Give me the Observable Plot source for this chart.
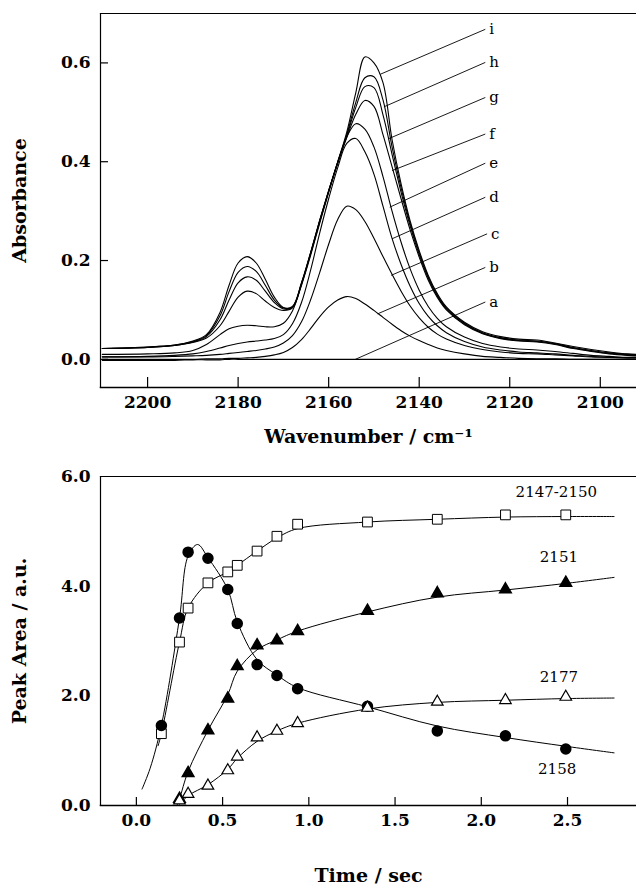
<!DOCTYPE html>
<html><head><meta charset="utf-8">
<script src="https://cdn.jsdelivr.net/npm/d3@7"></script>
<script src="https://cdn.jsdelivr.net/npm/@observablehq/plot@0.6"></script>
<style>
body{margin:0;background:#fff;}
#chart{width:636px;}
svg{display:block;}
</style></head><body><div id="chart"></div>
<script>
// ---------- Top panel: IR spectra ----------
const wavenumbers = [2210,2200,2194,2190,2187,2184,2182,2180,2178,2176,2174,2172,2170,2168,2166,2164,2162,2160,2158,2156,2154,2152,2150,2148,2146,2144,2142,2140,2138,2136,2134,2130,2126,2122,2118,2114,2110,2106,2102,2098,2094,2092];
const absA = [-0.002,-0.002,-0.002,-0.001,-0.001,-0.001,0,0,0,0,0,0,0,0,0,0,0,0,0,0,0,0,0,0,0,0,0,0,0,0,0,0,0,0,0,0,0,0,0,0,0,0];
const absB = [0,0,0,0,0.001,0.001,0.002,0.002,0.003,0.004,0.006,0.009,0.014,0.024,0.04,0.062,0.086,0.106,0.12,0.127,0.123,0.112,0.099,0.085,0.071,0.058,0.047,0.038,0.03,0.023,0.018,0.011,0.006,0.004,0.002,0.001,0.001,0,0,0,0,0];
const absC = [0.005,0.005,0.006,0.007,0.008,0.01,0.012,0.014,0.016,0.018,0.021,0.025,0.033,0.048,0.076,0.12,0.175,0.233,0.283,0.31,0.303,0.279,0.245,0.208,0.172,0.138,0.108,0.084,0.065,0.051,0.041,0.028,0.02,0.015,0.012,0.011,0.009,0.007,0.005,0.004,0.003,0.003];
const absD = [0.005,0.006,0.008,0.011,0.016,0.023,0.028,0.032,0.035,0.037,0.039,0.042,0.05,0.072,0.115,0.18,0.255,0.325,0.388,0.437,0.447,0.42,0.375,0.31,0.245,0.192,0.148,0.113,0.087,0.068,0.054,0.036,0.025,0.019,0.015,0.013,0.011,0.008,0.006,0.004,0.003,0.003];
const absE = [0.01,0.011,0.013,0.018,0.03,0.05,0.062,0.067,0.069,0.068,0.066,0.066,0.073,0.098,0.15,0.21,0.275,0.338,0.398,0.45,0.477,0.466,0.43,0.37,0.30,0.237,0.183,0.14,0.107,0.083,0.066,0.045,0.032,0.025,0.021,0.019,0.016,0.012,0.008,0.006,0.004,0.004];
const absF = [0.022,0.024,0.028,0.034,0.043,0.068,0.097,0.126,0.138,0.133,0.118,0.105,0.099,0.104,0.152,0.213,0.278,0.34,0.398,0.449,0.496,0.524,0.512,0.455,0.39,0.325,0.262,0.207,0.16,0.125,0.1,0.07,0.052,0.042,0.037,0.035,0.03,0.022,0.016,0.011,0.008,0.007];
const absG = [0.022,0.024,0.028,0.035,0.046,0.08,0.12,0.155,0.167,0.16,0.138,0.115,0.102,0.105,0.153,0.214,0.279,0.34,0.398,0.452,0.51,0.552,0.55,0.495,0.415,0.338,0.27,0.212,0.164,0.128,0.102,0.072,0.053,0.043,0.038,0.036,0.031,0.023,0.017,0.012,0.009,0.008];
const absH = [0.022,0.025,0.029,0.036,0.048,0.088,0.137,0.176,0.188,0.178,0.15,0.12,0.104,0.106,0.154,0.215,0.28,0.341,0.399,0.455,0.52,0.57,0.572,0.525,0.43,0.347,0.275,0.216,0.167,0.13,0.104,0.073,0.054,0.044,0.039,0.037,0.032,0.024,0.018,0.013,0.01,0.009];
const absI = [0.022,0.025,0.029,0.037,0.05,0.095,0.15,0.195,0.208,0.195,0.162,0.126,0.105,0.107,0.155,0.216,0.281,0.342,0.4,0.46,0.54,0.612,0.6,0.56,0.445,0.355,0.28,0.22,0.17,0.133,0.106,0.075,0.056,0.046,0.041,0.039,0.033,0.026,0.02,0.015,0.011,0.01];
const curveNames = ["a","b","c","d","e","f","g","h","i"];
const absSeries = [absA,absB,absC,absD,absE,absF,absG,absH,absI];
// label annotation: text anchor point and pointer tip (data units)
const labelTextW = [2125.4,2125.4,2125.0,2125.4,2125.4,2125.4,2125.4,2125.4,2125.4];
const labelTextA = [0.116,0.186,0.254,0.328,0.397,0.456,0.530,0.601,0.668];
const labelTipW  = [2154.1,2149.2,2146.2,2146.0,2146.5,2146.0,2146.9,2147.8,2148.6];
const labelTipA  = [0.0,0.092,0.170,0.244,0.308,0.382,0.446,0.511,0.577];
const absTicksX = [2200,2180,2160,2140,2120,2100];
const absTicksY = [0,0.2,0.4,0.6];

// ---------- Bottom panel: peak areas ----------
const timesAB = [0.145,0.25,0.30,0.415,0.53,0.585,0.70,0.815,0.935,1.34,1.745,2.14,2.49];
const area2147 = [1.31,2.98,3.60,4.06,4.26,4.38,4.64,4.91,5.13,5.17,5.22,5.30,5.30];
const area2158 = [1.46,3.42,4.62,4.51,3.94,3.32,2.57,2.37,2.13,1.81,1.36,1.27,1.03];
const timesTri = [0.25,0.30,0.415,0.53,0.585,0.70,0.815,0.935,1.34,1.745,2.14,2.49];
const area2151 = [0.12,0.59,1.37,1.95,2.54,2.92,3.01,3.18,3.55,3.87,3.94,4.06];
const area2177 = [0.09,0.21,0.36,0.64,0.89,1.24,1.36,1.50,1.78,1.89,1.92,1.98];
// fitted curves as drawn
const fit2147T = [0.126,0.145,0.25,0.30,0.415,0.53,0.585,0.70,0.815,0.935,1.34,1.745,2.14,2.49,2.77];
const fit2147V = [1.09,1.31,2.98,3.60,4.06,4.26,4.38,4.64,4.88,5.05,5.17,5.22,5.26,5.27,5.27];
const fit2158T = [0.033,0.08,0.145,0.25,0.30,0.355,0.415,0.53,0.585,0.70,0.815,0.935,1.34,1.745,2.14,2.49,2.77];
const fit2158V = [0.30,0.68,1.46,3.42,4.55,4.76,4.52,3.94,3.35,2.66,2.38,2.15,1.80,1.45,1.24,1.08,0.96];
const fit2151T = [0.235,0.25,0.30,0.415,0.53,0.585,0.70,0.815,0.935,1.34,1.745,2.14,2.49,2.77];
const fit2151V = [0.0,0.12,0.62,1.37,2.02,2.45,2.84,3.02,3.18,3.53,3.80,3.93,4.05,4.16];
const fit2177T = [0.25,0.30,0.415,0.53,0.585,0.70,0.815,0.935,1.34,1.745,2.14,2.49,2.77];
const fit2177V = [0.02,0.18,0.38,0.66,0.86,1.17,1.36,1.50,1.76,1.88,1.92,1.95,1.96];
const seriesLabels = ["2147-2150","2151","2177","2158"];
const seriesLabelT = [2.435,2.45,2.45,2.44];
const seriesLabelV = [5.72,4.52,2.34,0.67];
const timeTicks = [0,0.5,1,1.5,2,2.5];
const areaTicks = [0,2,4,6];

// ---------- build tables ----------
const spectra = curveNames.flatMap((n,k) => wavenumbers.map((w,j) => ({curve:n, w, A: absSeries[k][j]})));
const leaders = curveNames.map((n,k) => ({name:n, x1:labelTextW[k], y1:labelTextA[k], x2:labelTipW[k], y2:labelTipA[k]}));
const pts = (T,V) => T.map((t,i) => ({t, v: V[i]}));
const fits = [
  ...pts(fit2147T,fit2147V).map(d => ({...d, s:"2147"})),
  ...pts(fit2158T,fit2158V).map(d => ({...d, s:"2158"})),
  ...pts(fit2151T,fit2151V).map(d => ({...d, s:"2151"})),
  ...pts(fit2177T,fit2177V).map(d => ({...d, s:"2177"}))
];
const sLabels = seriesLabels.map((s,i) => ({s, t: seriesLabelT[i], v: seriesLabelV[i]}));

const baseStyle = {fontFamily: "'DejaVu Serif', serif", fontSize: "17px", fontWeight: "bold", color: "#000", background: "#fff", overflow: "visible"};
const f1 = d3.format(".1f");
const f0 = d3.format("d");

const topChart = Plot.plot({
  width: 636, height: 447, marginLeft: 100, marginRight: 0, marginTop: 13, marginBottom: 60,
  style: baseStyle,
  x: {domain: [2210.4, 2092]},
  y: {domain: [-0.057, 0.7]},
  marks: [
    Plot.frame({anchor: "top", strokeWidth: 1.2}),
    Plot.frame({anchor: "left", strokeWidth: 1.2}),
    Plot.frame({anchor: "bottom", strokeWidth: 1.5}),
    Plot.axisX(absTicksX, {tickSize: -10, tickPadding: 18, tickFormat: f0, label: null, strokeWidth: 1.2}),
    Plot.axisY(absTicksY, {tickSize: -8, tickPadding: 18, tickFormat: f1, label: null, strokeWidth: 1.2}),
    Plot.line(spectra, {x: "w", y: "A", z: "curve", stroke: "#000", strokeWidth: 1.1, curve: "catmull-rom", clip: true}),
    Plot.link(leaders, {x1: "x1", y1: "y1", x2: "x2", y2: "y2", stroke: "#000", strokeWidth: 0.9}),
    Plot.text(leaders, {x: "x1", y: "y1", text: "name", textAnchor: "start", dx: 4, fontSize: 15, fontWeight: "normal"}),
    Plot.text(["Wavenumber / cm\u207B\u00B9"], {text: d => d, frameAnchor: "bottom", dy: 49, fontSize: 19, textAnchor: "middle", lineAnchor: "middle"}),
    Plot.text(["Absorbance"], {text: d => d, frameAnchor: "left", dx: -81, rotate: -90, fontSize: 19, textAnchor: "middle", lineAnchor: "middle"})
  ]
});

const bottomChart = Plot.plot({
  width: 636, height: 437, marginLeft: 100, marginRight: 0, marginTop: 29, marginBottom: 79,
  style: baseStyle,
  x: {domain: [-0.208, 2.9]},
  y: {domain: [0, 6]},
  marks: [
    Plot.frame({anchor: "top", strokeWidth: 1.2}),
    Plot.frame({anchor: "left", strokeWidth: 1.2}),
    Plot.frame({anchor: "bottom", strokeWidth: 1.5}),
    Plot.axisX(timeTicks, {tickSize: -8, tickPadding: 16, tickFormat: f1, label: null, strokeWidth: 1.2}),
    Plot.axisY(areaTicks, {tickSize: 0, tickPadding: 10, tickFormat: f1, label: null}),
    Plot.line(fits, {x: "t", y: "v", z: "s", stroke: "#000", strokeWidth: 1, curve: "catmull-rom", clip: true}),
    Plot.dot(pts(timesAB, area2147), {x: "t", y: "v", symbol: "square", r: 5.5, fill: "#fff", stroke: "#000", strokeWidth: 1}),
    Plot.dot(pts(timesAB, area2158), {x: "t", y: "v", symbol: "circle", r: 5, fill: "#000", stroke: "#000"}),
    Plot.dot(pts(timesTri, area2151), {x: "t", y: "v", symbol: "triangle", r: 4.3, fill: "#000", stroke: "#000"}),
    Plot.dot(pts(timesTri, area2177), {x: "t", y: "v", symbol: "triangle", r: 4.3, fill: "#fff", stroke: "#000", strokeWidth: 1.2}),
    Plot.text(sLabels, {x: "t", y: "v", text: "s", fontSize: 15, fontWeight: "normal"}),
    Plot.text(["Time / sec"], {text: d => d, frameAnchor: "bottom", dy: 70, fontSize: 19, textAnchor: "middle", lineAnchor: "middle"}),
    Plot.text(["Peak Area / a.u."], {text: d => d, frameAnchor: "left", dx: -81, rotate: -90, fontSize: 19, textAnchor: "middle", lineAnchor: "middle"})
  ]
});

document.getElementById("chart").append(topChart, bottomChart);
</script>
</body></html>
